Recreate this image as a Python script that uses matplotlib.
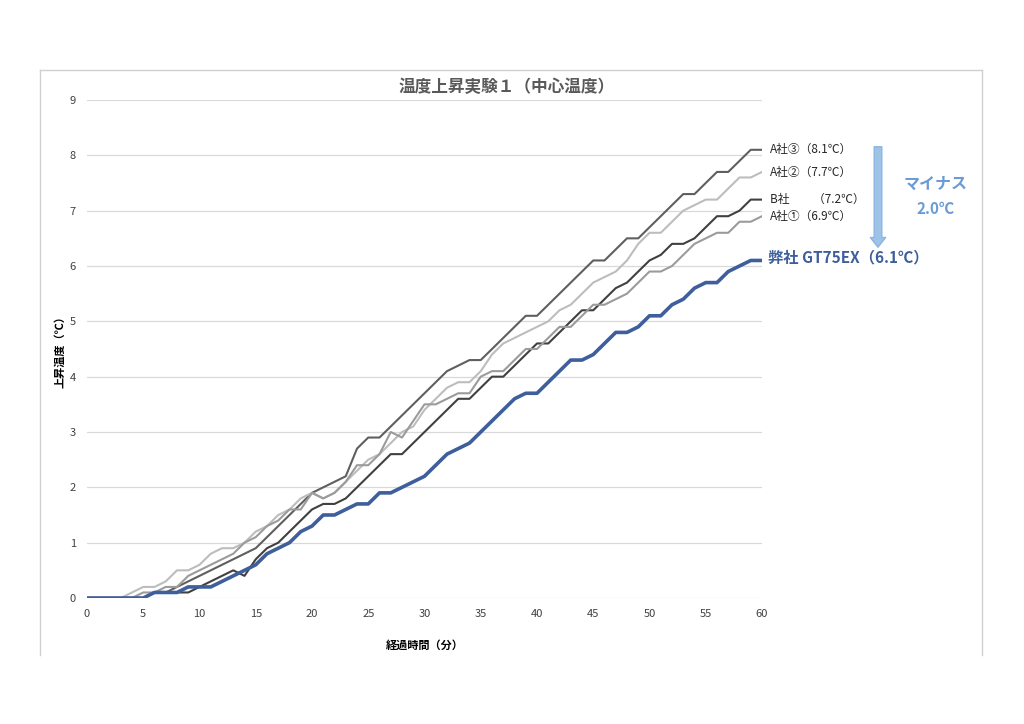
import matplotlib.pyplot as plt
from matplotlib.lines import Line2D

plt.rcParams['font.family'] = ['Noto Sans CJK JP', 'DejaVu Sans']

# 経過時間（分）
minutes = list(range(0, 61))

a3 = [0, 0, 0, 0, 0, 0, 0.1, 0.1, 0.2, 0.3, 0.4, 0.5, 0.6, 0.7, 0.8, 0.9,
      1.1, 1.3, 1.5, 1.7, 1.9, 2.0, 2.1, 2.2, 2.7, 2.9, 2.9, 3.1, 3.3, 3.5,
      3.7, 3.9, 4.1, 4.2, 4.3, 4.3, 4.5, 4.7, 4.9, 5.1, 5.1, 5.3, 5.5, 5.7,
      5.9, 6.1, 6.1, 6.3, 6.5, 6.5, 6.7, 6.9, 7.1, 7.3, 7.3, 7.5, 7.7, 7.7,
      7.9, 8.1, 8.1]
a2 = [0, 0, 0, 0, 0.1, 0.2, 0.2, 0.3, 0.5, 0.5, 0.6, 0.8, 0.9, 0.9, 1.0, 1.2,
      1.3, 1.5, 1.6, 1.8, 1.9, 1.8, 1.9, 2.1, 2.3, 2.5, 2.6, 2.8, 3.0, 3.1,
      3.4, 3.6, 3.8, 3.9, 3.9, 4.1, 4.4, 4.6, 4.7, 4.8, 4.9, 5.0, 5.2, 5.3,
      5.5, 5.7, 5.8, 5.9, 6.1, 6.4, 6.6, 6.6, 6.8, 7.0, 7.1, 7.2, 7.2, 7.4,
      7.6, 7.6, 7.7]
b = [0, 0, 0, 0, 0, 0, 0.1, 0.1, 0.1, 0.1, 0.2, 0.3, 0.4, 0.5, 0.4, 0.7,
     0.9, 1.0, 1.2, 1.4, 1.6, 1.7, 1.7, 1.8, 2.0, 2.2, 2.4, 2.6, 2.6, 2.8,
     3.0, 3.2, 3.4, 3.6, 3.6, 3.8, 4.0, 4.0, 4.2, 4.4, 4.6, 4.6, 4.8, 5.0,
     5.2, 5.2, 5.4, 5.6, 5.7, 5.9, 6.1, 6.2, 6.4, 6.4, 6.5, 6.7, 6.9, 6.9,
     7.0, 7.2, 7.2]
a1 = [0, 0, 0, 0, 0, 0.1, 0.1, 0.2, 0.2, 0.4, 0.5, 0.6, 0.7, 0.8, 1.0, 1.1,
      1.3, 1.4, 1.6, 1.6, 1.9, 1.8, 1.9, 2.1, 2.4, 2.4, 2.6, 3.0, 2.9, 3.2,
      3.5, 3.5, 3.6, 3.7, 3.7, 4.0, 4.1, 4.1, 4.3, 4.5, 4.5, 4.7, 4.9, 4.9,
      5.1, 5.3, 5.3, 5.4, 5.5, 5.7, 5.9, 5.9, 6.0, 6.2, 6.4, 6.5, 6.6, 6.6,
      6.8, 6.8, 6.9]
ours = [0, 0, 0, 0, 0, 0, 0.1, 0.1, 0.1, 0.2, 0.2, 0.2, 0.3, 0.4, 0.5, 0.6,
        0.8, 0.9, 1.0, 1.2, 1.3, 1.5, 1.5, 1.6, 1.7, 1.7, 1.9, 1.9, 2.0, 2.1,
        2.2, 2.4, 2.6, 2.7, 2.8, 3.0, 3.2, 3.4, 3.6, 3.7, 3.7, 3.9, 4.1, 4.3,
        4.3, 4.4, 4.6, 4.8, 4.8, 4.9, 5.1, 5.1, 5.3, 5.4, 5.6, 5.7, 5.7, 5.9,
        6.0, 6.1, 6.1]

labels = ['A社③（8.1℃）', 'A社②（7.7℃）', 'B社　　（7.2℃）', 'A社①（6.9℃）']
ours_label = '弊社 GT75EX（6.1℃）'

fig = plt.figure(figsize=(10.24, 7.24), dpi=100)
ax = fig.add_axes([87/1024, 1 - 598/724, 675/1024, 498/724])

ax.plot(minutes, a3, color='#5f5f5f', lw=1.5)
ax.plot(minutes, a2, color='#bdbdbd', lw=1.5)
ax.plot(minutes, b, color='#404040', lw=1.5)
ax.plot(minutes, a1, color='#9b9b9b', lw=1.5)
ax.plot(minutes, ours, color='#3e5f9b', lw=2.6, zorder=5)

ax.set_xlim(0, 60)
ax.set_ylim(0, 9)
ax.set_xticks(range(0, 61, 5))
ax.set_yticks(range(0, 10))
ax.grid(axis='y', color='#d9d9d9', lw=0.9)
ax.set_axisbelow(True)
for s in ax.spines.values():
    s.set_visible(False)
ax.tick_params(length=0, labelsize=8, labelcolor='#404040', pad=8)

ax.set_xlabel('経過時間（分）', fontsize=8, fontweight='bold', labelpad=14)
ax.set_ylabel('上昇温度（℃）', fontsize=8, fontweight='bold', labelpad=2)

# 右端のラベル
ends = [a3[-1], a2[-1], b[-1], a1[-1]]
for lab, v in zip(labels, ends):
    ax.text(60.7, v, lab, fontsize=8.5, color='#262626', va='center',
            clip_on=False)
ax.text(60.5, ours[-1] + 0.05, ours_label, fontsize=11, fontweight='bold',
        color='#3e5f9b', va='center', clip_on=False)

fig.text(507/1024, 1 - 87/724, '温度上昇実験１（中心温度）', fontsize=12,
         fontweight='bold', color='#595959', ha='center', va='center')

# マイナス矢印
ax.annotate('', xy=(878, 724 - 250), xytext=(878, 724 - 144),
            xycoords='figure pixels', textcoords='figure pixels',
            arrowprops=dict(arrowstyle='simple,head_width=1.1,head_length=0.7,tail_width=0.55',
                            fc='#9dc3e6', ec='#8db4e2'))
fig.text(936/1024, 1 - 184/724, 'マイナス', fontsize=11.5, fontweight='bold',
         color='#6a9bd6', ha='center', va='center')
fig.text(936/1024, 1 - 209/724, '2.0℃', fontsize=11, fontweight='bold',
         color='#6a9bd6', ha='center', va='center')

# 外枠
for xs, ys in [([40, 982], [70, 70]), ([40, 40], [70, 655]), ([982, 982], [70, 655])]:
    fig.add_artist(Line2D([x/1024 for x in xs], [1 - y/724 for y in ys],
                          color='#d0d0d0', lw=1))

fig.savefig('out.png', dpi=100)
